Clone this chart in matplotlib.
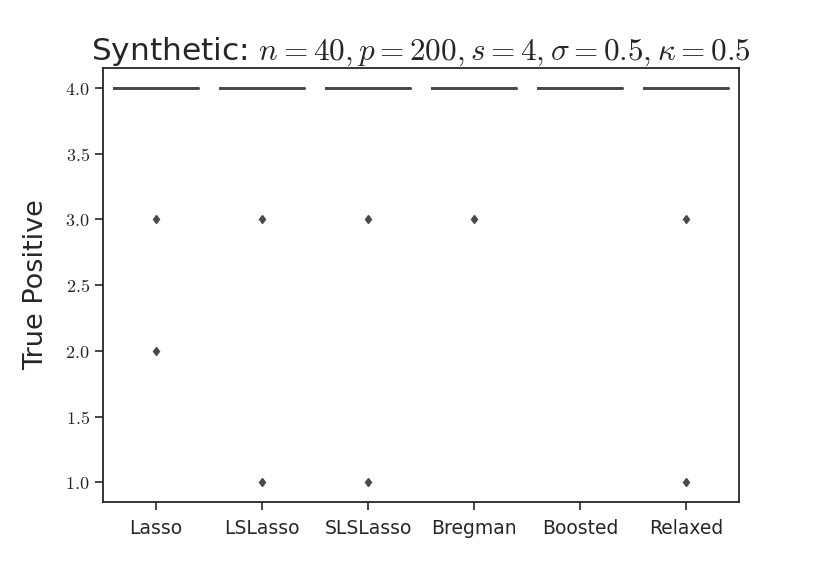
import matplotlib
matplotlib.use('Agg')
import matplotlib.pyplot as plt
from matplotlib.ticker import FuncFormatter

methods: list[str] = ['Lasso', 'LSLasso', 'SLSLasso', 'Bregman', 'Boosted', 'Relaxed']
n_trials: int = 20
# outlying true-positive counts per method; every other trial recovered all 4
outliers: dict[str, list[float]] = {
    'Lasso': [3, 2],
    'LSLasso': [3, 1],
    'SLSLasso': [3, 1],
    'Bregman': [3],
    'Boosted': [],
    'Relaxed': [3, 1],
}
full_support: float = 4.0
y_ticks: list[float] = [1.0, 1.5, 2.0, 2.5, 3.0, 3.5, 4.0]

plt.rcParams['mathtext.fontset'] = 'cm'
plt.rcParams['font.family'] = ['DejaVu Sans']

grey = '#4a4a4a'
dark = '#262626'


def build_data() -> list[list[float]]:
    data = []
    for m in methods:
        vals = [full_support] * (n_trials - len(outliers[m])) + outliers[m]
        data.append(vals)
    return data


def generate_plot() -> None:
    fig = plt.figure(figsize=(8.22, 5.65), dpi=100)
    ax = fig.add_axes([0.1253, 0.1115, 0.7737, 0.7681])
    positions = list(range(len(methods)))
    lw = 1.9
    ax.boxplot(
        build_data(), positions=positions, widths=0.8,
        boxprops=dict(color=grey, linewidth=lw),
        medianprops=dict(color=grey, linewidth=lw),
        whiskerprops=dict(color=grey, linewidth=lw),
        capprops=dict(color=grey, linewidth=lw),
        flierprops=dict(marker='d', markersize=4.5, markerfacecolor=grey,
                        markeredgecolor=grey, linestyle='none'),
    )
    ax.set_xlim(-0.5, len(methods) - 0.5)
    ax.set_ylim(0.85, 4.15)
    ax.set_xticks(positions)
    ax.set_xticklabels(methods, fontsize=13.5, color=dark)
    ax.set_yticks(y_ticks)
    ax.yaxis.set_major_formatter(FuncFormatter(lambda v, p: f'${v:.1f}$'))
    ax.tick_params(axis='y', labelsize=13, labelcolor=dark)
    ax.tick_params(axis='both', length=6, width=1.2, color=dark)
    ax.tick_params(axis='x', pad=6)
    for s in ax.spines.values():
        s.set_color(dark)
        s.set_linewidth(1.3)
    ax.set_ylabel('True Positive', fontsize=19.5, color=dark, labelpad=12)
    ax.set_title(r'Synthetic: $n=40, p=200, s=4, \sigma=0.5, \kappa=0.5$',
                 fontsize=22.5, pad=6, color=dark)
    fig.savefig('out.png', dpi=100)


if __name__ == '__main__':
    generate_plot()
